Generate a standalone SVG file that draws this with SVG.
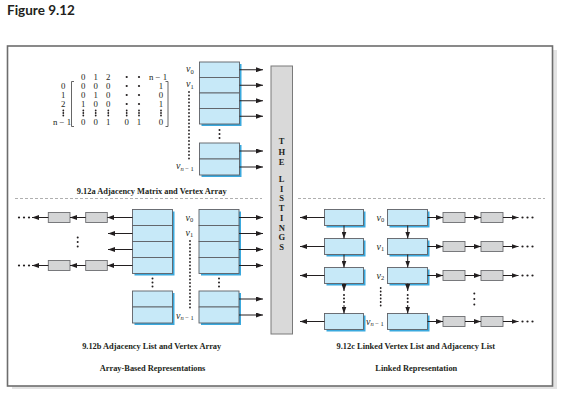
<svg xmlns="http://www.w3.org/2000/svg" width="561" height="401" viewBox="0 0 561 401">
<defs>
<marker id="ah" viewBox="0 0 7 5" refX="7" refY="2.5" markerWidth="7" markerHeight="5" orient="auto" markerUnits="userSpaceOnUse"><path d="M0,0 L7,2.5 L0,5 z" fill="#231f20"/></marker>
<style>
.title{font-family:"Lato","Open Sans","Liberation Sans",sans-serif;font-weight:bold;font-size:13.5px;fill:#231f20}
.cap{font-family:"Liberation Serif",serif;font-weight:bold;font-size:8.4px;fill:#231f20;text-anchor:middle}
.num{font-family:"Liberation Serif",serif;font-size:8.8px;fill:#231f20;text-anchor:middle}
.lab{font-family:"Liberation Serif",serif;font-size:10px;fill:#231f20}
.it{font-style:italic}
.sub{font-size:6.5px}
.lst{font-family:"Liberation Serif",serif;font-weight:bold;font-size:8.5px;fill:#231f20;text-anchor:middle}
.blue{fill:#c7e9f8;stroke:#5e6166;stroke-width:0.9}
.shd{fill:#3aa9de}
.gray{fill:#d4d5d6;stroke:#6d6e71;stroke-width:0.9}
.arr{stroke:#231f20;stroke-width:1;fill:none;marker-end:url(#ah)}
.dotl{stroke:#231f20;stroke-width:1.8;stroke-linecap:round;stroke-dasharray:0 3.5;fill:none}
.dot{fill:#231f20}
.brk{stroke:#555;stroke-width:0.9;fill:none}
.dash{stroke:#9a9a9a;stroke-width:0.8;stroke-dasharray:3 2;fill:none}
</style>
</defs>
<rect width="561" height="401" fill="#ffffff"/>
<text class="title" x="7" y="15">Figure 9.12</text>

<g id="frame">
<rect x="12" y="382" width="545" height="7" fill="#e3e3e3"/>
<rect x="551" y="50" width="6" height="339" fill="#e3e3e3"/>
<rect x="7.5" y="46" width="545" height="340" fill="#ffffff" stroke="#6d6d6d" stroke-width="1.6"/>
<line class="dash" x1="15" y1="198.5" x2="262" y2="198.5"/>
<line class="dash" x1="298" y1="198.5" x2="545" y2="198.5"/>
</g>

<g id="listings">
<rect x="271" y="66" width="21.5" height="268" fill="#d9d9d9" stroke="#7a7a7a" stroke-width="1"/>
<text class="lst" x="281.7" y="144">T</text>
<text class="lst" x="281.7" y="154.5">H</text>
<text class="lst" x="281.7" y="165">E</text>
<text class="lst" x="281.7" y="181.5">L</text>
<text class="lst" x="281.7" y="191.5">I</text>
<text class="lst" x="281.7" y="201.3">S</text>
<text class="lst" x="281.7" y="211.2">T</text>
<text class="lst" x="281.7" y="220.9">I</text>
<text class="lst" x="281.7" y="230.6">N</text>
<text class="lst" x="281.7" y="240.3">G</text>
<text class="lst" x="281.7" y="250">S</text>
</g>

<g id="matrix">
<g class="num">
<text x="83.3" y="80">0</text><text x="95.7" y="80">1</text><text x="108.3" y="80">2</text><text x="158" y="80">n − 1</text>
<text x="63.3" y="89">0</text><text x="63.3" y="98">1</text><text x="63.3" y="107">2</text><text x="62" y="125">n − 1</text>
<text x="83.3" y="89">0</text><text x="95.7" y="89">0</text><text x="108.3" y="89">0</text><text x="161" y="89">1</text>
<text x="83.3" y="98">0</text><text x="95.7" y="98">1</text><text x="108.3" y="98">0</text><text x="161" y="98">0</text>
<text x="83.3" y="107">1</text><text x="95.7" y="107">0</text><text x="108.3" y="107">0</text><text x="161" y="107">1</text>
<text x="83.3" y="125">0</text><text x="95.7" y="125">0</text><text x="108.3" y="125">1</text><text x="126.7" y="125">0</text><text x="139" y="125">1</text><text x="161" y="125">0</text>
</g>
<g class="dot">
<circle cx="126.7" cy="77" r="1.1"/><circle cx="139" cy="77" r="1.1"/>
<circle cx="126.7" cy="86" r="1.1"/><circle cx="139" cy="86" r="1.1"/>
<circle cx="126.7" cy="95" r="1.1"/><circle cx="139" cy="95" r="1.1"/>
<circle cx="126.7" cy="104" r="1.1"/><circle cx="139" cy="104" r="1.1"/>
<circle cx="63.3" cy="110.5" r="0.9"/><circle cx="63.3" cy="113" r="0.9"/><circle cx="63.3" cy="115.5" r="0.9"/>
<circle cx="83.3" cy="110.5" r="0.9"/><circle cx="83.3" cy="113" r="0.9"/><circle cx="83.3" cy="115.5" r="0.9"/>
<circle cx="95.7" cy="110.5" r="0.9"/><circle cx="95.7" cy="113" r="0.9"/><circle cx="95.7" cy="115.5" r="0.9"/>
<circle cx="108.3" cy="110.5" r="0.9"/><circle cx="108.3" cy="113" r="0.9"/><circle cx="108.3" cy="115.5" r="0.9"/>
<circle cx="126.7" cy="110.5" r="0.9"/><circle cx="126.7" cy="113" r="0.9"/><circle cx="126.7" cy="115.5" r="0.9"/>
<circle cx="139" cy="110.5" r="0.9"/><circle cx="139" cy="113" r="0.9"/><circle cx="139" cy="115.5" r="0.9"/>
<circle cx="161" cy="110.5" r="0.9"/><circle cx="161" cy="113" r="0.9"/><circle cx="161" cy="115.5" r="0.9"/>
</g>
<path class="brk" d="M74,81.5 H71.5 V126.5 H74"/>
<path class="brk" d="M165.5,81.5 H168 V126.5 H165.5"/>
</g>

<g id="vertex-array-a">
<rect class="shd" x="201.5" y="64" width="40" height="62"/>
<rect class="blue" x="199.5" y="62" width="40" height="15.5"/>
<rect class="blue" x="199.5" y="77.5" width="40" height="15.5"/>
<rect class="blue" x="199.5" y="93" width="40" height="15.5"/>
<rect class="blue" x="199.5" y="108.5" width="40" height="15.5"/>
<rect class="shd" x="201.5" y="145" width="40" height="32"/>
<rect class="blue" x="199.5" y="143" width="40" height="16"/>
<rect class="blue" x="199.5" y="159" width="40" height="16"/>
<g class="dot"><circle cx="219.5" cy="130" r="1"/><circle cx="219.5" cy="134" r="1"/><circle cx="219.5" cy="138" r="1"/></g>
<text class="lab" x="186" y="72"><tspan class="it">v</tspan><tspan class="sub" dy="1.5">0</tspan></text>
<text class="lab" x="186" y="87"><tspan class="it">v</tspan><tspan class="sub" dy="1.5">1</tspan></text>
<text class="lab" x="176" y="169"><tspan class="it">v</tspan><tspan class="sub" dy="1.5"><tspan class="it">n</tspan> − 1</tspan></text>
<line class="dotl" x1="189" y1="92" x2="189" y2="161"/>
</g>

<g id="vertex-array-b-left">
<rect class="shd" x="134.5" y="211.5" width="40" height="64"/>
<rect class="blue" x="132.5" y="209.5" width="40" height="16"/>
<rect class="blue" x="132.5" y="225.5" width="40" height="16"/>
<rect class="blue" x="132.5" y="241.5" width="40" height="16"/>
<rect class="blue" x="132.5" y="257.5" width="40" height="16"/>
<rect class="shd" x="134.5" y="293" width="40" height="32"/>
<rect class="blue" x="132.5" y="291" width="40" height="16"/>
<rect class="blue" x="132.5" y="307" width="40" height="16"/>
<g class="dot"><circle cx="152.5" cy="278.5" r="1"/><circle cx="152.5" cy="282.5" r="1"/><circle cx="152.5" cy="286.5" r="1"/></g>
</g>

<g id="vertex-array-b-right">
<rect class="shd" x="201" y="211.5" width="40" height="64"/>
<rect class="blue" x="199" y="209.5" width="40" height="16"/>
<rect class="blue" x="199" y="225.5" width="40" height="16"/>
<rect class="blue" x="199" y="241.5" width="40" height="16"/>
<rect class="blue" x="199" y="257.5" width="40" height="16"/>
<rect class="shd" x="201" y="293" width="40" height="32"/>
<rect class="blue" x="199" y="291" width="40" height="16"/>
<rect class="blue" x="199" y="307" width="40" height="16"/>
<g class="dot"><circle cx="219" cy="278.5" r="1"/><circle cx="219" cy="282.5" r="1"/><circle cx="219" cy="286.5" r="1"/></g>
<text class="lab" x="185.5" y="220.5"><tspan class="it">v</tspan><tspan class="sub" dy="1.5">0</tspan></text>
<text class="lab" x="185.5" y="235.5"><tspan class="it">v</tspan><tspan class="sub" dy="1.5">1</tspan></text>
<text class="lab" x="176" y="318.5"><tspan class="it">v</tspan><tspan class="sub" dy="1.5"><tspan class="it">n</tspan> − 1</tspan></text>
<line class="dotl" x1="190" y1="241" x2="190" y2="310"/>
</g>

<g id="adjacency-list-b">
<rect class="gray" x="85.7" y="212.5" width="21.6" height="10"/>
<rect class="gray" x="48.3" y="212.5" width="21.7" height="10"/>
<rect class="gray" x="85.7" y="260.5" width="21.6" height="10"/>
<rect class="gray" x="48.3" y="260.5" width="21.7" height="10"/>
<g class="dot">
<circle cx="19" cy="217.5" r="1.1"/><circle cx="24" cy="217.5" r="1.1"/><circle cx="29" cy="217.5" r="1.1"/>
<circle cx="19" cy="265.5" r="1.1"/><circle cx="24" cy="265.5" r="1.1"/><circle cx="29" cy="265.5" r="1.1"/>
<circle cx="77.7" cy="237.5" r="1"/><circle cx="77.7" cy="242" r="1"/><circle cx="77.7" cy="246.5" r="1"/>
</g>
</g>

<g id="linked-vertex-list-left">
<rect class="shd" x="326.5" y="211.5" width="39" height="16"/>
<rect class="blue" x="324.5" y="209.5" width="39" height="16"/>
<rect class="shd" x="326.5" y="240.5" width="39" height="16"/>
<rect class="blue" x="324.5" y="238.5" width="39" height="16"/>
<rect class="shd" x="326.5" y="269.5" width="39" height="16"/>
<rect class="blue" x="324.5" y="267.5" width="39" height="16"/>
<rect class="shd" x="326.5" y="315.5" width="39" height="16"/>
<rect class="blue" x="324.5" y="313.5" width="39" height="16"/>
</g>

<g id="linked-vertex-list-right">
<rect class="shd" x="389.5" y="211.5" width="40" height="16"/>
<rect class="blue" x="387.5" y="209.5" width="40" height="16"/>
<rect class="shd" x="389.5" y="240.5" width="40" height="16"/>
<rect class="blue" x="387.5" y="238.5" width="40" height="16"/>
<rect class="shd" x="389.5" y="269.5" width="40" height="16"/>
<rect class="blue" x="387.5" y="267.5" width="40" height="16"/>
<rect class="shd" x="389.5" y="315.5" width="40" height="16"/>
<rect class="blue" x="387.5" y="313.5" width="40" height="16"/>
<text class="lab" x="376.5" y="220.5"><tspan class="it">v</tspan><tspan class="sub" dy="1.5">0</tspan></text>
<text class="lab" x="376.5" y="249.5"><tspan class="it">v</tspan><tspan class="sub" dy="1.5">1</tspan></text>
<text class="lab" x="376.5" y="278.5"><tspan class="it">v</tspan><tspan class="sub" dy="1.5">2</tspan></text>
<text class="lab" x="366" y="324.5"><tspan class="it">v</tspan><tspan class="sub" dy="1.5"><tspan class="it">n</tspan> − 1</tspan></text>
<line class="dotl" x1="380.7" y1="288" x2="380.7" y2="307"/>
</g>

<g id="adjacency-list-c">
<rect class="gray" x="443" y="212.5" width="22" height="10"/>
<rect class="gray" x="481" y="212.5" width="22" height="10"/>
<rect class="gray" x="443" y="241.5" width="22" height="10"/>
<rect class="gray" x="481" y="241.5" width="22" height="10"/>
<rect class="gray" x="443" y="270.5" width="22" height="10"/>
<rect class="gray" x="481" y="270.5" width="22" height="10"/>
<rect class="gray" x="443" y="316.5" width="22" height="10"/>
<rect class="gray" x="481" y="316.5" width="22" height="10"/>
<g class="dot">
<circle cx="522.5" cy="217.5" r="1.1"/><circle cx="527.5" cy="217.5" r="1.1"/><circle cx="532.5" cy="217.5" r="1.1"/>
<circle cx="522.5" cy="246.5" r="1.1"/><circle cx="527.5" cy="246.5" r="1.1"/><circle cx="532.5" cy="246.5" r="1.1"/>
<circle cx="522.5" cy="275.5" r="1.1"/><circle cx="527.5" cy="275.5" r="1.1"/><circle cx="532.5" cy="275.5" r="1.1"/>
<circle cx="522.5" cy="321.5" r="1.1"/><circle cx="527.5" cy="321.5" r="1.1"/><circle cx="532.5" cy="321.5" r="1.1"/>
<circle cx="474.3" cy="293.5" r="1"/><circle cx="474.3" cy="299" r="1"/><circle cx="474.3" cy="304.5" r="1"/>
</g>
</g>

<g id="connectors">
<line class="arr" x1="239.5" y1="69.75" x2="263" y2="69.75"/>
<line class="arr" x1="239.5" y1="85.25" x2="263" y2="85.25"/>
<line class="arr" x1="239.5" y1="100.75" x2="263" y2="100.75"/>
<line class="arr" x1="239.5" y1="116.25" x2="263" y2="116.25"/>
<line class="arr" x1="239.5" y1="151" x2="263" y2="151"/>
<line class="arr" x1="239.5" y1="167" x2="263" y2="167"/>

<line class="arr" x1="239" y1="217.5" x2="263" y2="217.5"/>
<line class="arr" x1="239" y1="233.5" x2="263" y2="233.5"/>
<line class="arr" x1="239" y1="249.5" x2="263" y2="249.5"/>
<line class="arr" x1="239" y1="265.5" x2="263" y2="265.5"/>
<line class="arr" x1="239" y1="299" x2="263" y2="299"/>
<line class="arr" x1="239" y1="315" x2="263" y2="315"/>

<line class="arr" x1="132.5" y1="217.5" x2="107.3" y2="217.5"/>
<line class="arr" x1="85.7" y1="217.5" x2="70" y2="217.5"/>
<line class="arr" x1="48.3" y1="217.5" x2="32" y2="217.5"/>
<line class="arr" x1="132.5" y1="233.5" x2="108" y2="233.5"/>
<line class="arr" x1="132.5" y1="249.5" x2="108" y2="249.5"/>
<line class="arr" x1="132.5" y1="265.5" x2="107.3" y2="265.5"/>
<line class="arr" x1="85.7" y1="265.5" x2="70" y2="265.5"/>
<line class="arr" x1="48.3" y1="265.5" x2="32" y2="265.5"/>

<line class="arr" x1="324.5" y1="217.5" x2="300" y2="217.5"/>
<line class="arr" x1="324.5" y1="246.5" x2="300" y2="246.5"/>
<line class="arr" x1="324.5" y1="275.5" x2="300" y2="275.5"/>
<line class="arr" x1="324.5" y1="321.5" x2="300" y2="321.5"/>

<line class="arr" x1="344" y1="225.5" x2="344" y2="238.5"/>
<line class="arr" x1="344" y1="254.5" x2="344" y2="267.5"/>
<line class="arr" x1="344" y1="283.5" x2="344" y2="291"/>
<line class="arr" x1="344" y1="305" x2="344" y2="313.5"/>
<g class="dot"><circle cx="344" cy="295" r="1"/><circle cx="344" cy="298.5" r="1"/><circle cx="344" cy="302" r="1"/></g>
<line class="arr" x1="407.7" y1="225.5" x2="407.7" y2="238.5"/>
<line class="arr" x1="407.7" y1="254.5" x2="407.7" y2="267.5"/>
<line class="arr" x1="407.7" y1="283.5" x2="407.7" y2="291"/>
<line class="arr" x1="407.7" y1="305" x2="407.7" y2="313.5"/>
<g class="dot"><circle cx="407.7" cy="295" r="1"/><circle cx="407.7" cy="298.5" r="1"/><circle cx="407.7" cy="302" r="1"/></g>

<line class="arr" x1="427.5" y1="217.5" x2="443" y2="217.5"/>
<line class="arr" x1="465" y1="217.5" x2="481" y2="217.5"/>
<line class="arr" x1="503" y1="217.5" x2="518.5" y2="217.5"/>
<line class="arr" x1="427.5" y1="246.5" x2="443" y2="246.5"/>
<line class="arr" x1="465" y1="246.5" x2="481" y2="246.5"/>
<line class="arr" x1="503" y1="246.5" x2="518.5" y2="246.5"/>
<line class="arr" x1="427.5" y1="275.5" x2="443" y2="275.5"/>
<line class="arr" x1="465" y1="275.5" x2="481" y2="275.5"/>
<line class="arr" x1="503" y1="275.5" x2="518.5" y2="275.5"/>
<line class="arr" x1="427.5" y1="321.5" x2="443" y2="321.5"/>
<line class="arr" x1="465" y1="321.5" x2="481" y2="321.5"/>
<line class="arr" x1="503" y1="321.5" x2="518.5" y2="321.5"/>
</g>

<g id="captions">
<text class="cap" x="151.7" y="193.5">9.12a Adjacency Matrix and Vertex Array</text>
<text class="cap" x="151.7" y="348.5">9.12b Adjacency List and Vertex Array</text>
<text class="cap" x="152.5" y="371">Array-Based Representations</text>
<text class="cap" x="415.8" y="348.5">9.12c Linked Vertex List and Adjacency List</text>
<text class="cap" x="416.3" y="371">Linked Representation</text>
</g>
</svg>
